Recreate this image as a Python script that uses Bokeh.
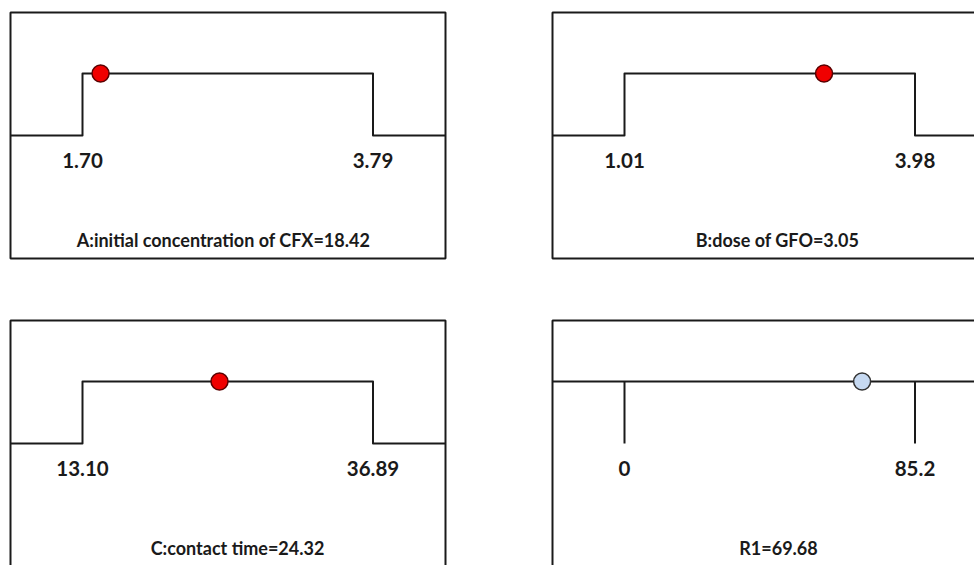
from bokeh.plotting import figure
from bokeh.models import Range1d, ColumnDataSource
from bokeh.layouts import column, row
from bokeh.core.properties import value
from bokeh.embed import file_html
from bokeh.resources import INLINE

# ---- data ----
panel_names = ["A", "B", "C", "R1"]
low_values = [1.70, 1.01, 13.10, 0.0]
high_values = [3.79, 3.98, 36.89, 85.2]
low_labels = ["1.70", "1.01", "13.10", "0"]
high_labels = ["3.79", "3.98", "36.89", "85.2"]
current_values = [1.83, 3.05, 24.32, 69.68]
titles = ["A:initial concentration of CFX=18.42", "B:dose of GFO=3.05",
          "C:contact time=24.32", "R1=69.68"]
is_response = [False, False, False, True]

# ---- layout constants (pixels inside each panel) ----
widths = [550, 424, 550, 424]
heights = [316, 316, 249, 249]
offset_x = [8, 0, 8, 0]
offset_y = [8, 8, 0, 0]
PX_LOW, PX_HIGH = 74.0, 364.5       # x pixels of the low / high limits
PY_HIGH, PY_LOW = 65.0, 127.0       # y pixels of the high / low level
BOX_L, BOX_R, BOX_T, BOX_B = 2.0, 437.0, 4.0, 250.0
LABEL_PY = 151.5
TITLE_PY = 231.5
title_px = [215.0, 227.0, 229.0, 228.0]

INK = "#1a1a1a"
FONT = value("Lato")


def make_panel(i):
    W, H = widths[i], heights[i]
    ox, oy = offset_x[i], offset_y[i]
    lo, hi = low_values[i], high_values[i]
    ppx = (PX_HIGH - PX_LOW) / (hi - lo)
    x0 = lo - (PX_LOW + ox) / ppx
    ppy = PY_LOW - PY_HIGH
    y1 = 1.0 + (PY_HIGH + oy) / ppy
    y0 = y1 - H / ppy

    def fx(px):
        return x0 + (px + ox) / ppx

    def fy(py):
        return y1 - (py + oy) / ppy

    p = figure(width=W, height=H, output_backend="svg", toolbar_location=None,
               x_range=Range1d(x0, x0 + W / ppx), y_range=Range1d(y0, y1),
               x_axis_location=None, y_axis_location=None, min_border=0,
               outline_line_color=None, background_fill_color="white",
               border_fill_color="white")
    p.xgrid.visible = False
    p.ygrid.visible = False

    # frame box
    p.quad(left=[fx(BOX_L)], right=[fx(BOX_R)], top=[fy(BOX_T)], bottom=[fy(BOX_B)],
           fill_alpha=0, line_color=INK, line_width=2)

    if not is_response[i]:
        xs = [fx(BOX_L), lo, lo, hi, hi, fx(BOX_R)]
        ys = [0, 0, 1, 1, 0, 0]
        p.line(xs, ys, line_color=INK, line_width=2, line_join="round")
        dot_fill, dot_line = "#f00000", "#5a0000"
    else:
        p.line([fx(BOX_L), fx(BOX_R)], [1, 1], line_color=INK, line_width=2)
        p.segment(x0=[lo, hi], y0=[1, 1], x1=[lo, hi], y1=[0, 0],
                  line_color=INK, line_width=2)
        dot_fill, dot_line = "#c6d9f1", "#333333"

    p.scatter([current_values[i]], [1], size=17, marker="circle",
              fill_color=dot_fill, line_color=dot_line, line_width=1.5)

    src = ColumnDataSource(dict(x=[lo, hi], y=[fy(LABEL_PY)] * 2,
                                t=[low_labels[i], high_labels[i]]))
    p.text(x="x", y="y", text="t", source=src, text_font=FONT,
           text_font_style="bold", text_font_size="20.5px", text_color="#1a1a1a",
           text_align="center", text_baseline="middle")
    p.text(x=[fx(title_px[i])], y=[fy(TITLE_PY)], text=[titles[i]], text_font=FONT,
           text_font_style="bold", text_font_size="18px", text_color="#1a1a1a",
           text_align="center", text_baseline="middle")
    return p


panels = [make_panel(i) for i in range(4)]
layout = column(row(panels[0], panels[1]), row(panels[2], panels[3]))

with open("out.html", "w") as f:
    f.write(file_html(layout, INLINE))
